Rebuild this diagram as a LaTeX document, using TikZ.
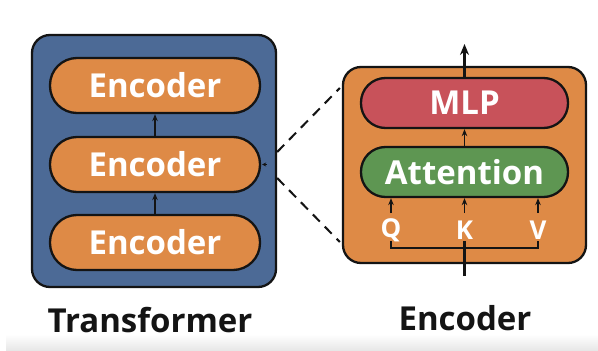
\documentclass[tikz,border=0pt]{standalone}
\usepackage{fontspec}
\setmainfont{Open Sans}
\usetikzlibrary{arrows.meta,calc}

\definecolor{tfblue}{RGB}{76,106,150}
\definecolor{encorange}{RGB}{222,138,70}
\definecolor{mlpred}{RGB}{200,82,90}
\definecolor{attgreen}{RGB}{94,150,82}
\definecolor{ink}{RGB}{20,20,20}

\tikzset{
  outerbox/.style={draw=ink, line width=2.3pt, rounded corners=18pt, inner sep=0pt},
  pill/.style={draw=ink, line width=2.3pt, inner sep=0pt,
    text=white, font=\fontsize{33}{33}\selectfont\bfseries},
  caption/.style={text=ink, font=\fontsize{33}{33}\selectfont\bfseries, inner sep=0pt},
  qkv/.style={text=white, font=\fontsize{26}{26}\selectfont\bfseries, inner sep=0pt},
  flow/.style={draw=ink, line width=1.9pt, -{Stealth[length=7pt,width=5.5pt]}},
  bigflow/.style={draw=ink, line width=2.2pt, -{Stealth[length=11pt,width=9pt]}},
  wire/.style={draw=ink, line width=2.1pt},
  zoomline/.style={draw=ink, line width=2pt, dash pattern=on 10pt off 7pt},
}

\begin{document}
\begin{tikzpicture}[x=1pt,y=-1pt]
  % page
  \useasboundingbox (0,0) rectangle (598,351);
  \fill[white] (0,0) rectangle (598,351);
  \shade[top color=white, bottom color=black!10] (6,334) rectangle (598,351);

  % ---- Transformer stack ----
  \node[outerbox, fill=tfblue, minimum width=244pt, minimum height=252pt] (tf) at (154,161) {};
  \node[pill, rounded corners=27pt, fill=encorange, minimum width=210pt, minimum height=55pt] (enc3) at (155,85.5) {Encoder};
  \node[pill, rounded corners=27pt, fill=encorange, minimum width=210pt, minimum height=55pt] (enc2) at (155,164.5) {Encoder};
  \node[pill, rounded corners=27pt, fill=encorange, minimum width=210pt, minimum height=55pt] (enc1) at (155,242.5) {Encoder};
  \draw[flow] (enc1.north) -- (enc2.south);
  \draw[flow] (enc2.north) -- (enc3.south);
  \draw[draw=ink, line width=1pt, -{Stealth[length=4pt,width=4pt]}] ($(enc2.east)+(6,0)$) -- ($(enc2.east)+(1,0)$);
  \node[caption] (tflabel) at (150,320) {Transformer};

  % ---- Encoder detail ----
  \node[outerbox, fill=encorange, minimum width=243pt, minimum height=196pt] (eb) at (464.5,165) {};
  \node[pill, rounded corners=24.5pt, fill=mlpred, minimum width=207pt, minimum height=50pt] (mlp) at (464.5,103) {MLP};
  \node[pill, rounded corners=24.5pt, fill=attgreen, minimum width=207pt, minimum height=50pt] (att) at (464.5,172) {Attention};
  \node[qkv] (q) at (391,230) {Q};
  \node[qkv] (k) at (464.5,230) {K};
  \node[qkv] (v) at (538,230) {V};
  \coordinate (out) at (464.5,44);
  \coordinate (in) at (464.5,276);
  \draw[flow] (att.north) -- (mlp.south);
  \draw[bigflow] (mlp.north) -- (out);
  \draw[flow] (q.north |- 0,213) -- (q.north |- att.south);
  \draw[flow] (k.north |- 0,213) -- (k.north |- att.south);
  \draw[flow] (v.north |- 0,213) -- (v.north |- att.south);
  \draw[wire] (q.south |- 0,241) -- (q.south |- 0,248) -- (v.south |- 0,248) -- (v.south |- 0,241);
  \draw[wire] (in) -- (k.south |- 0,241);
  \node[caption] (enclabel) at (465,318) {Encoder};

  % ---- zoom lines ----
  \draw[zoomline] ($(tf.east)+(0,-9)$) -- ($(eb.west)+(-2,-77)$);
  \draw[zoomline] ($(tf.east)+(0,17)$) -- ($(eb.west)+(-2,77)$);
\end{tikzpicture}
\end{document}
